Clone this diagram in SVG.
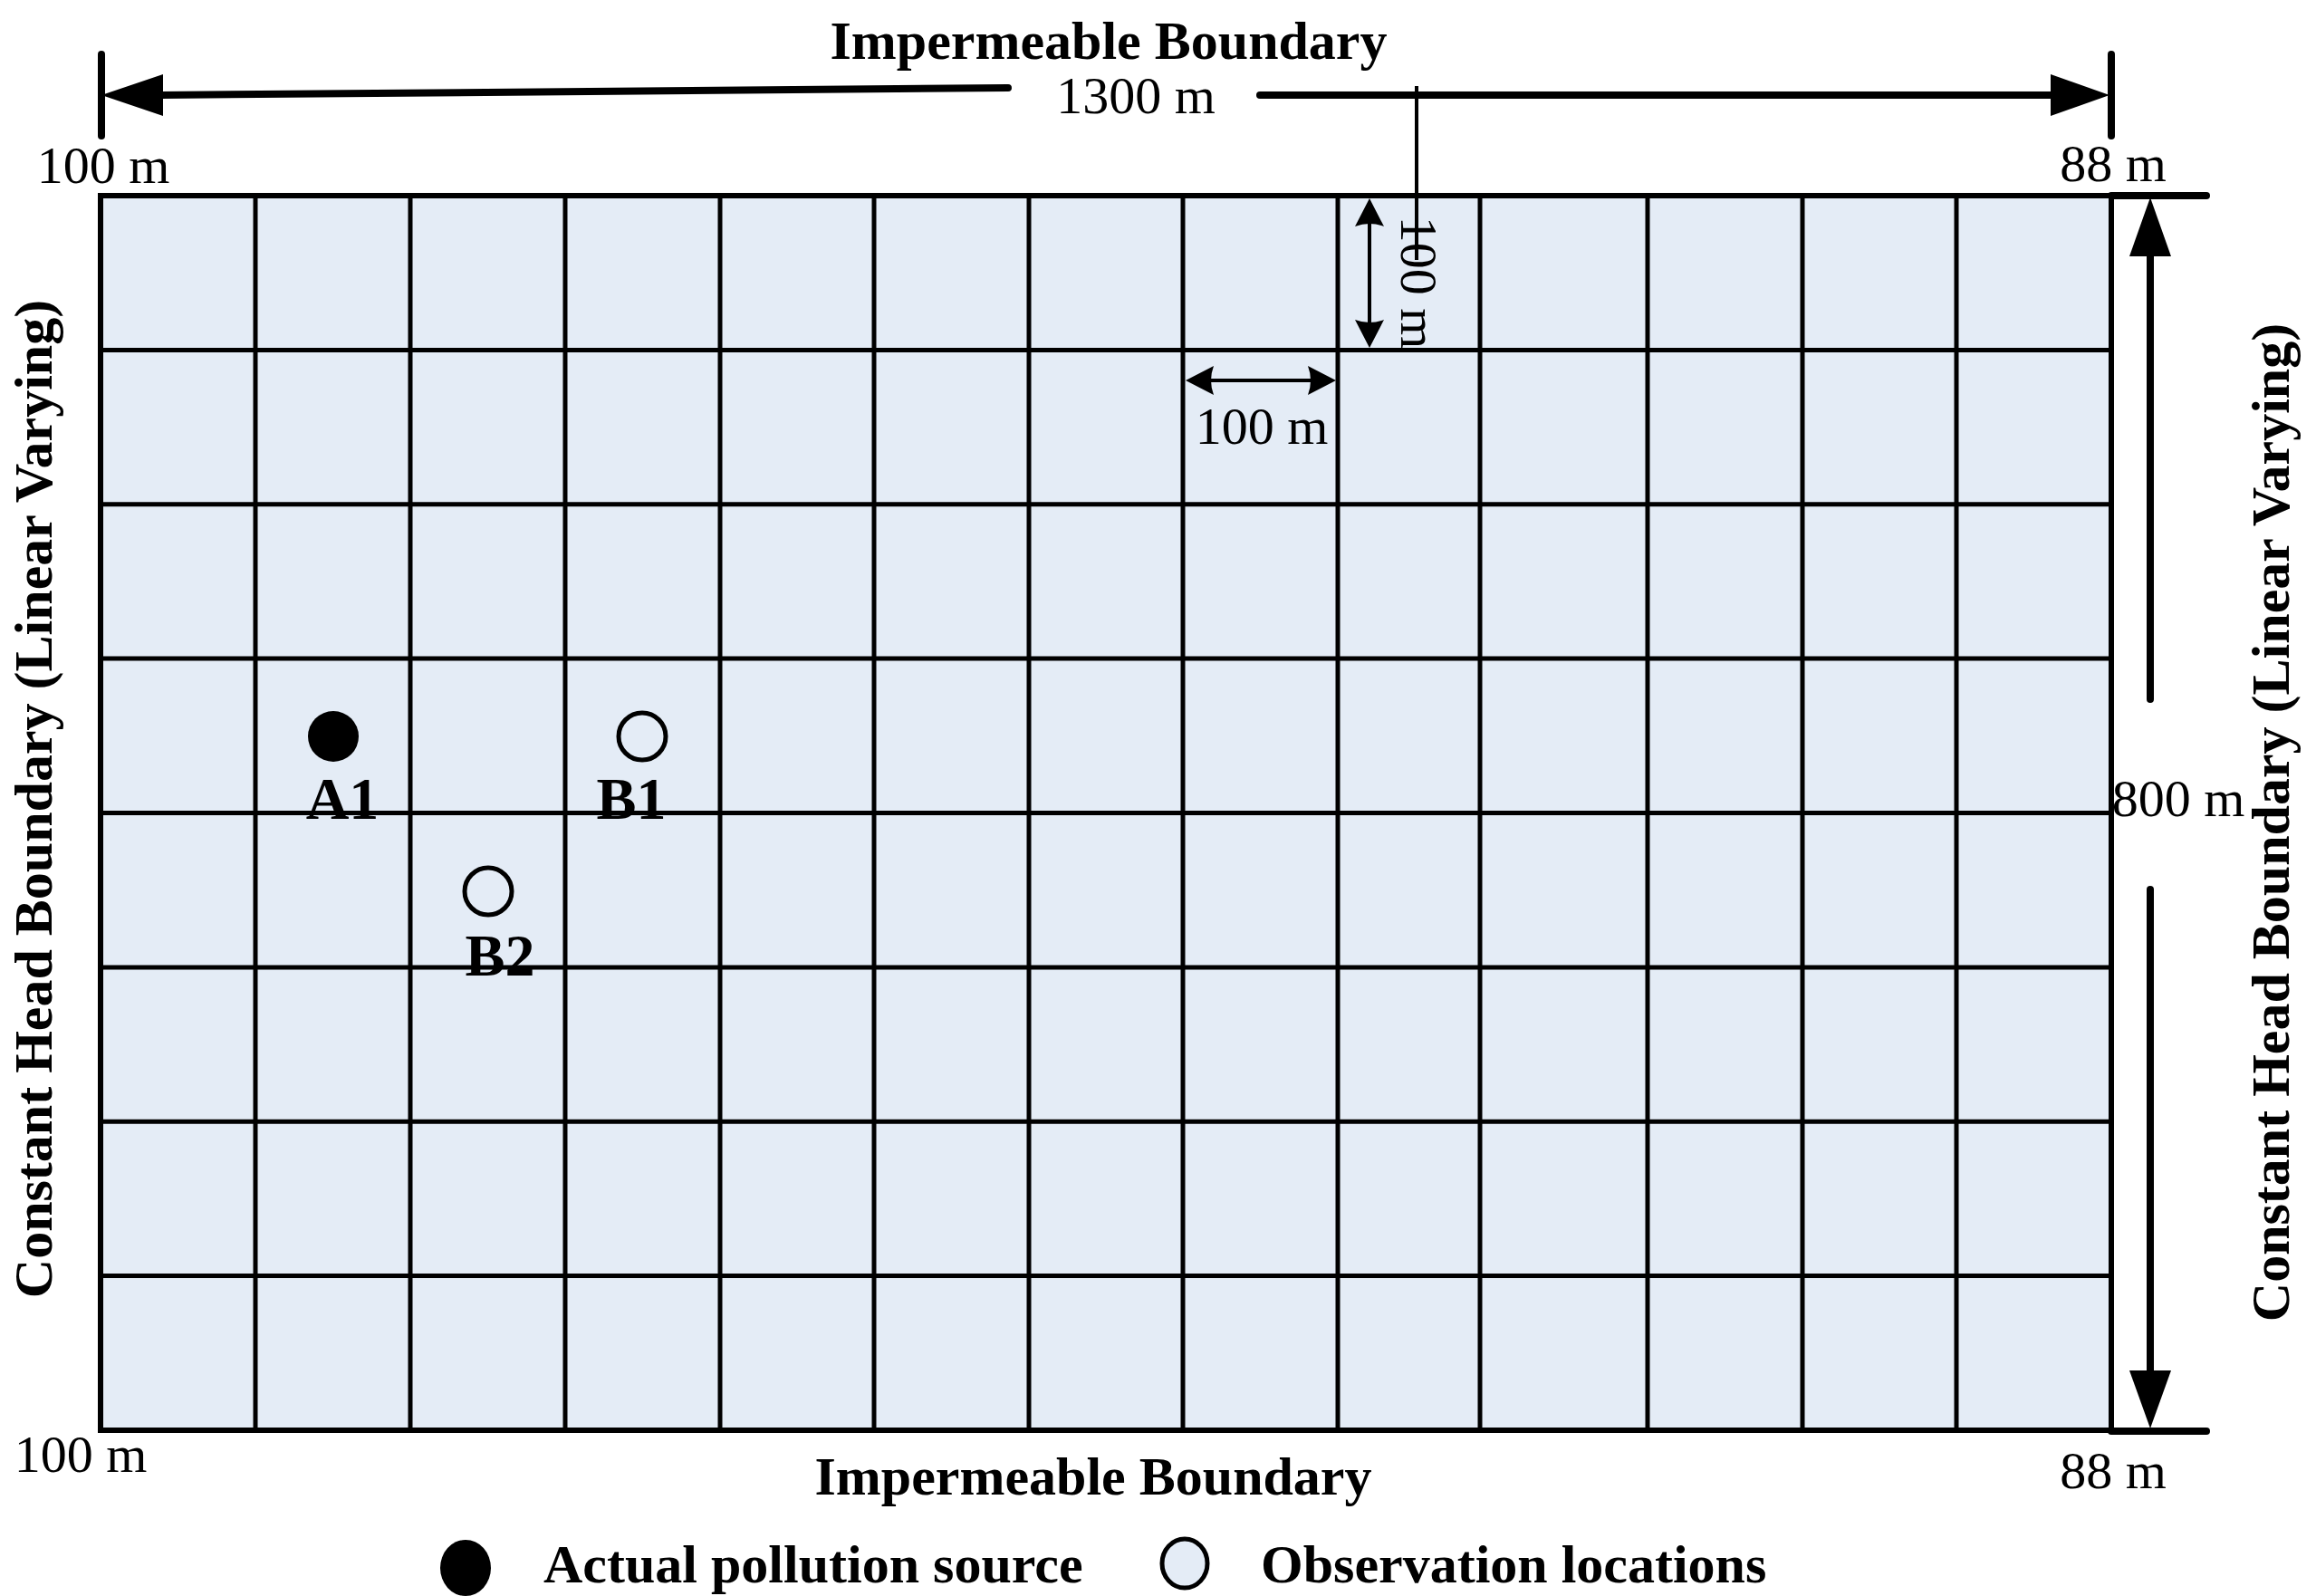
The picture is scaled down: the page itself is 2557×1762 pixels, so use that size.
<svg xmlns="http://www.w3.org/2000/svg" width="2557" height="1762" viewBox="0 0 2557 1762">
<style>
.t{font-family:"Liberation Serif","Times New Roman",serif;font-size:58px;fill:#000}
.b{font-family:"Liberation Serif","Times New Roman",serif;font-size:60px;font-weight:bold;fill:#000}
.lbl{font-family:"Liberation Serif","Times New Roman",serif;font-size:66px;font-weight:bold;fill:#000;text-anchor:middle}
.m{text-anchor:middle}
.grid{stroke:#000;stroke-width:5;fill:none}
.dim{stroke:#000;stroke-width:8;fill:none;stroke-linecap:round}
.thin{stroke:#000;stroke-width:4;fill:none}
.ah{fill:#000;stroke:none}
.obs{fill:#E4ECF6;stroke:#000;stroke-width:5}
</style>
<rect width="2557" height="1762" fill="#fff"/>

<g id="grid">
<rect x="111" y="216" width="2220" height="1363" fill="#E4ECF6"/>
<g class="grid">
<line x1="282" y1="216" x2="282" y2="1579"/>
<line x1="453" y1="216" x2="453" y2="1579"/>
<line x1="624" y1="216" x2="624" y2="1579"/>
<line x1="795" y1="216" x2="795" y2="1579"/>
<line x1="965" y1="216" x2="965" y2="1579"/>
<line x1="1136" y1="216" x2="1136" y2="1579"/>
<line x1="1306" y1="216" x2="1306" y2="1579"/>
<line x1="1477" y1="216" x2="1477" y2="1579"/>
<line x1="1634" y1="216" x2="1634" y2="1579"/>
<line x1="1819" y1="216" x2="1819" y2="1579"/>
<line x1="1990" y1="216" x2="1990" y2="1579"/>
<line x1="2160" y1="216" x2="2160" y2="1579"/>
<line x1="111" y1="386.4" x2="2331" y2="386.4"/>
<line x1="111" y1="556.8" x2="2331" y2="556.8"/>
<line x1="111" y1="727.1" x2="2331" y2="727.1"/>
<line x1="111" y1="897.5" x2="2331" y2="897.5"/>
<line x1="111" y1="1067.9" x2="2331" y2="1067.9"/>
<line x1="111" y1="1238.3" x2="2331" y2="1238.3"/>
<line x1="111" y1="1408.6" x2="2331" y2="1408.6"/>
<rect x="111" y="216" width="2220" height="1363" stroke-width="6"/>
</g>
</g>

<g id="connectors">
<!-- top 1300 m dimension -->
<line class="dim" x1="112" y1="60" x2="112" y2="150"/>
<line class="dim" x1="2331" y1="60" x2="2331" y2="150"/>
<path class="ah" d="M112,105 L180,82 L180,128 Z"/>
<line class="dim" x1="178" y1="105" x2="1113" y2="97"/>
<line class="dim" x1="1391" y1="105" x2="2266" y2="105"/>
<path class="ah" d="M2329,105 L2264,82 L2264,128 Z"/>
<!-- right 800 m dimension -->
<line class="dim" x1="2331" y1="216" x2="2436" y2="216"/>
<line class="dim" x1="2331" y1="1580" x2="2436" y2="1580"/>
<path class="ah" d="M2374,218 L2351,283 L2397,283 Z"/>
<line class="dim" x1="2374" y1="280" x2="2374" y2="772"/>
<line class="dim" x1="2374" y1="982" x2="2374" y2="1516"/>
<path class="ah" d="M2374,1577 L2351,1513 L2397,1513 Z"/>
<!-- small 100 m vertical -->
<line class="thin" x1="1512" y1="240" x2="1512" y2="365"/>
<path class="ah" d="M1512,219 L1496,250 Q1512,244 1528,250 Z"/>
<path class="ah" d="M1512,384 L1496,353 Q1512,359 1528,353 Z"/>
<!-- small 100 m horizontal -->
<line class="thin" x1="1330" y1="420" x2="1455" y2="420"/>
<path class="ah" d="M1309,420 L1340,404 Q1334,420 1340,436 Z"/>
<path class="ah" d="M1475,420 L1444,404 Q1450,420 1444,436 Z"/>
<!-- leader line -->
<line class="thin" x1="1564" y1="95" x2="1564" y2="287"/>
</g>

<g id="labels">
<text class="b m" x="1224" y="65">Impermeable Boundary</text>
<text class="b m" x="1207" y="1650">Impermeable Boundary</text>
<text class="t m" x="1254" y="125">1300 m</text>
<text class="t m" x="114" y="202">100 m</text>
<text class="t m" x="2333" y="200">88 m</text>
<text class="t m" x="89" y="1625">100 m</text>
<text class="t m" x="2333" y="1643">88 m</text>
<text class="t m" x="2405" y="901">800 m</text>
<text class="t m" x="1393" y="490">100 m</text>
<text class="t m" transform="translate(1547,312) rotate(90)">100 m</text>
<text class="b m" transform="translate(57,882) rotate(-90)">Constant Head Boundary (Linear Varying)</text>
<text class="b m" transform="translate(2527,908) rotate(-90)">Constant Head Boundary (Linear Varying)</text>
</g>

<g id="A1">
<circle cx="368" cy="813" r="28" fill="#000"/>
<text class="lbl" x="378" y="904">A1</text>
</g>
<g id="B1">
<circle class="obs" cx="709" cy="813" r="26"/>
<text class="lbl" x="697" y="904">B1</text>
</g>
<g id="B2">
<circle class="obs" cx="539" cy="984" r="26"/>
<text class="lbl" x="552" y="1077">B2</text>
</g>

<g id="legend">
<ellipse cx="514" cy="1731" rx="28" ry="31" fill="#000"/>
<text class="b" x="600" y="1747">Actual pollution source</text>
<ellipse class="obs" cx="1308" cy="1726" rx="25" ry="27"/>
<text class="b" x="1392" y="1747">Observation locations</text>
</g>
</svg>
